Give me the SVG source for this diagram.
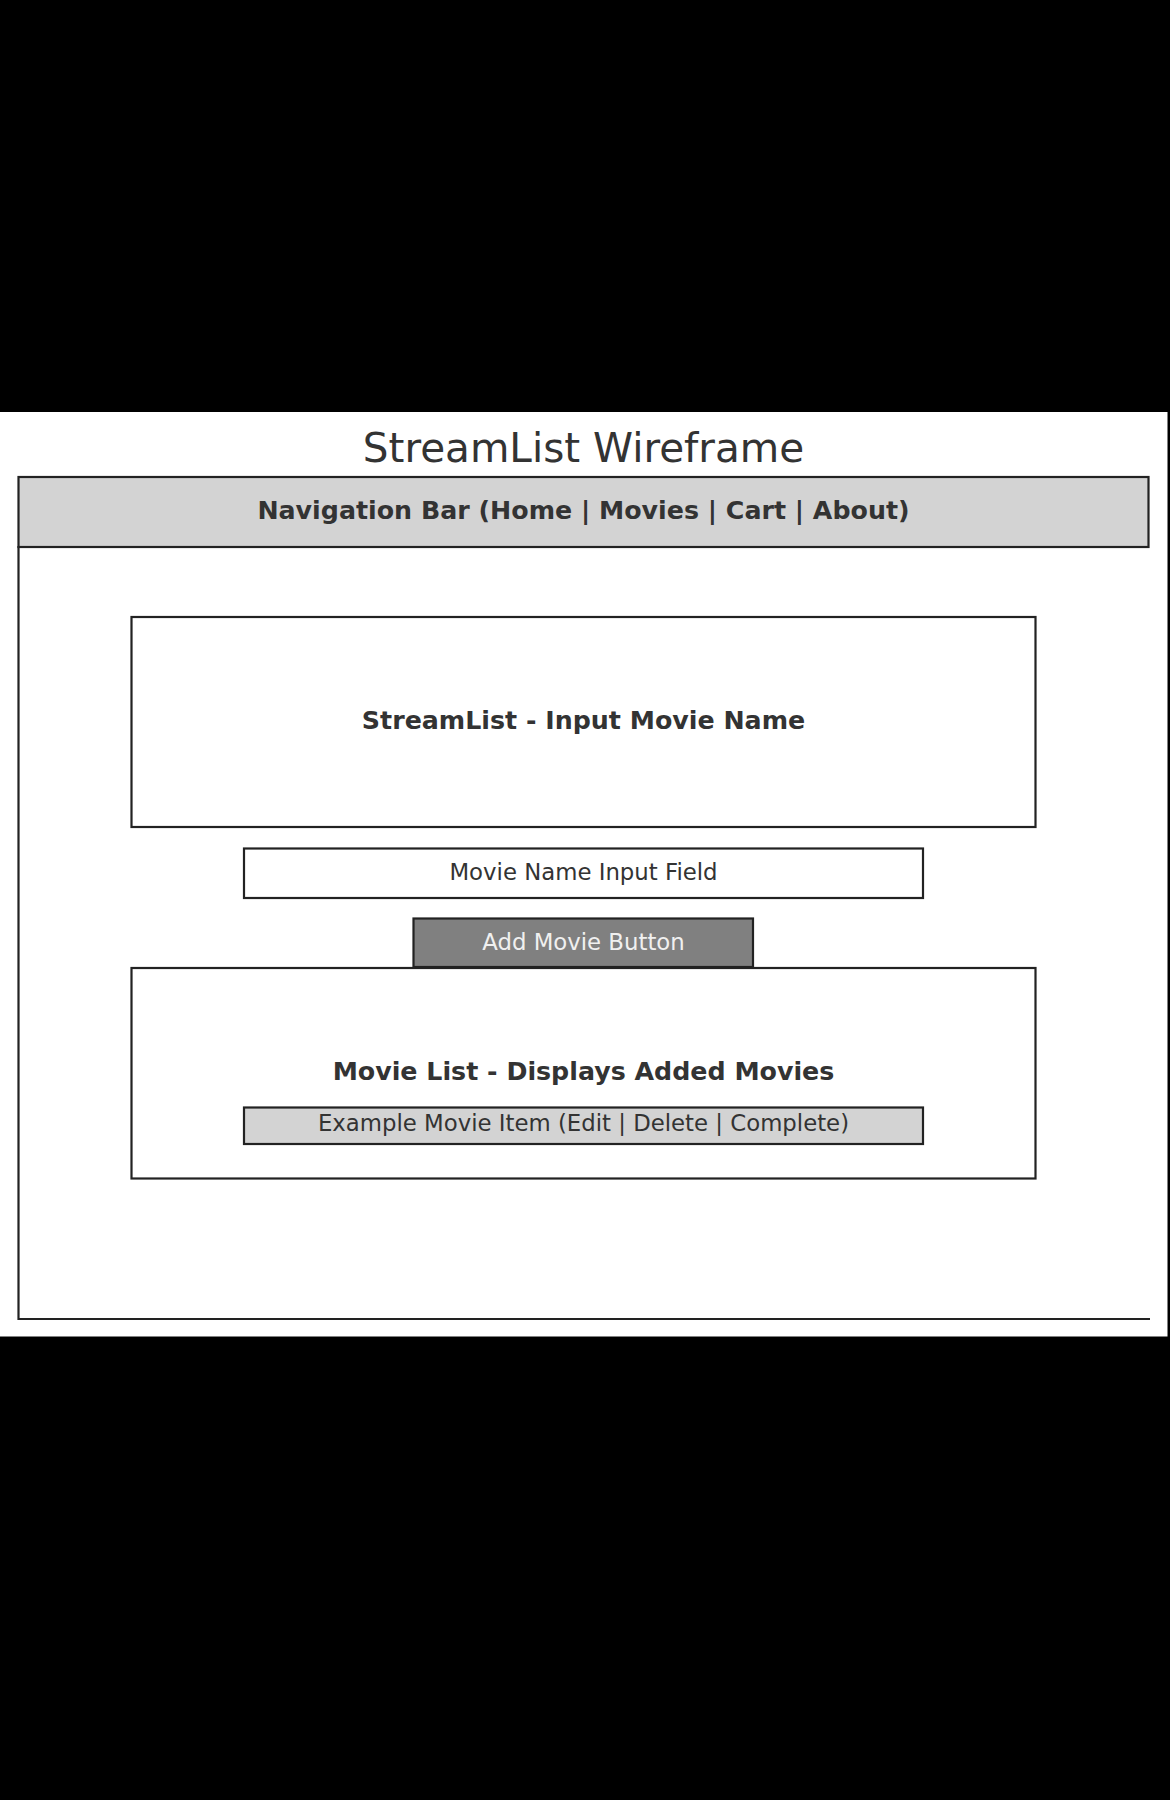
<svg xmlns="http://www.w3.org/2000/svg" width="1170" height="1800" viewBox="0 0 1170 1800">
<style>
.ln{fill:none;stroke:#222;stroke-width:2.2}
.box{stroke:#222;stroke-width:2.2}
.t{font-family:"DejaVu Sans",sans-serif;fill:#333;text-anchor:middle}
.b{font-weight:bold;font-size:25.3px}
.s{font-size:22.8px}
</style>
<rect x="0" y="0" width="1170" height="1800" fill="#000"/>
<rect x="0" y="412" width="1167.5" height="924.5" fill="#fff"/>
<text class="t" x="583.5" y="461.5" font-size="40.5">StreamList Wireframe</text>
<g id="frame">
<path class="ln" d="M18.5,546 V1319 H1150"/>
</g>
<g id="nav">
<rect class="box" x="18.5" y="477" width="1130" height="70" fill="#d3d3d3"/>
<text class="t b" x="583.5" y="518.5">Navigation Bar (Home | Movies | Cart | About)</text>
</g>
<g id="input-section">
<rect class="box" x="131.5" y="617" width="904" height="210" fill="#fff"/>
<text class="t b" x="583.5" y="729">StreamList - Input Movie Name</text>
</g>
<g id="input-field">
<rect class="box" x="244" y="848.5" width="679" height="49.5" fill="#fff"/>
<text class="t s" x="583.5" y="879.5">Movie Name Input Field</text>
</g>
<g id="add-button">
<rect class="box" x="413.5" y="918.5" width="339.5" height="48.5" fill="#808080"/>
<text class="t s" x="583.5" y="949.5" style="fill:#f0f0f0">Add Movie Button</text>
</g>
<g id="movie-list">
<rect class="box" x="131.5" y="968" width="904" height="210.5" fill="#fff"/>
<text class="t b" x="583.5" y="1079.5">Movie List - Displays Added Movies</text>
</g>
<g id="movie-item">
<rect class="box" x="244" y="1107.5" width="679" height="36.5" fill="#d3d3d3"/>
<text class="t s" x="583.5" y="1131">Example Movie Item (Edit | Delete | Complete)</text>
</g>
<g id="connectors"></g>
</svg>
